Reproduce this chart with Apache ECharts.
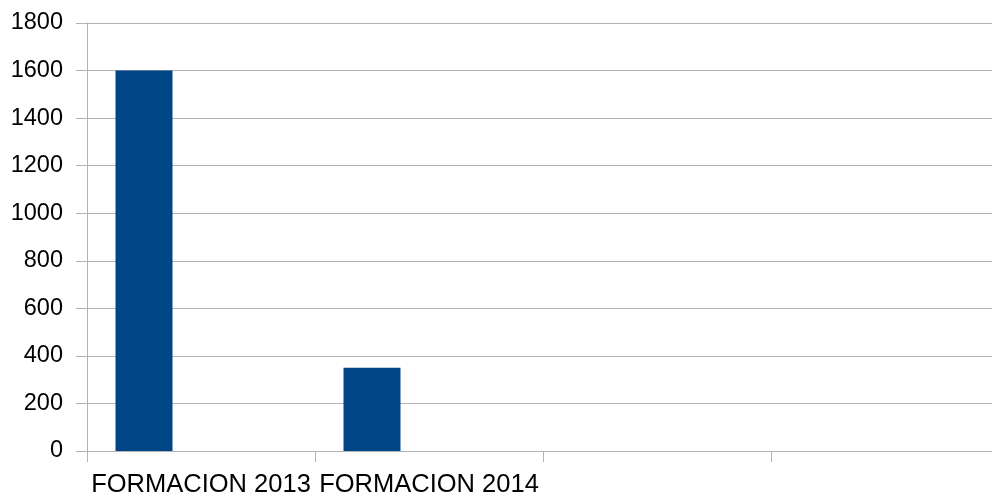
<!DOCTYPE html>
<html><head><meta charset="utf-8">
<script src="https://cdn.jsdelivr.net/npm/echarts@6/dist/echarts.min.js"></script>
<style>html,body{margin:0;padding:0;background:#fff;overflow:hidden;width:992px;height:498px;}#c{width:1000px;height:498px;}</style>
</head><body><div id="c"></div>
<script>
const categories = ["FORMACION 2013", "FORMACION 2014", "", ""];
const series1 = [1600, 350, null, null];
const series2 = [null, null, null, null];
const series3 = [null, null, null, null];
const yMin = 0, yMax = 1800, yStep = 200;

const chart = echarts.init(document.getElementById('c'), null, {renderer: 'canvas'});
const gridColor = '#b3b3b3';
const font = 'Liberation Sans, Arial, sans-serif';
chart.setOption({
  animation: false,
  backgroundColor: '#ffffff',
  grid: {left: 87, top: 23, width: 912, height: 429, containLabel: false},
  xAxis: {
    type: 'category', data: categories, boundaryGap: true,
    axisLine: {show: true, lineStyle: {color: gridColor, width: 1}},
    axisTick: {show: true, length: 11, inside: false, alignWithLabel: false, lineStyle: {color: gridColor, width: 1}},
    axisLabel: {color: '#000', fontSize: 25.5, fontFamily: font, margin: 21, interval: 0},
    splitLine: {show: false}
  },
  yAxis: {
    type: 'value', min: yMin, max: yMax, interval: yStep,
    axisLine: {show: true, lineStyle: {color: gridColor, width: 1}},
    axisTick: {show: true, length: 11, lineStyle: {color: gridColor, width: 1}},
    axisLabel: {color: '#000', fontSize: 23.5, fontFamily: font, margin: 24, formatter: v => String(v)},
    splitLine: {show: true, lineStyle: {color: gridColor, width: 1}}
  },
  series: [
    {type: 'bar', data: series1, barWidth: 57, barGap: '0%', barCategoryGap: '25%', itemStyle: {color: '#004586'}},
    {type: 'bar', data: series2, barWidth: 57, barGap: '0%', itemStyle: {color: '#ff420e'}},
    {type: 'bar', data: series3, barWidth: 57, barGap: '0%', itemStyle: {color: '#ffd320'}}
  ]
});
</script></body></html>
